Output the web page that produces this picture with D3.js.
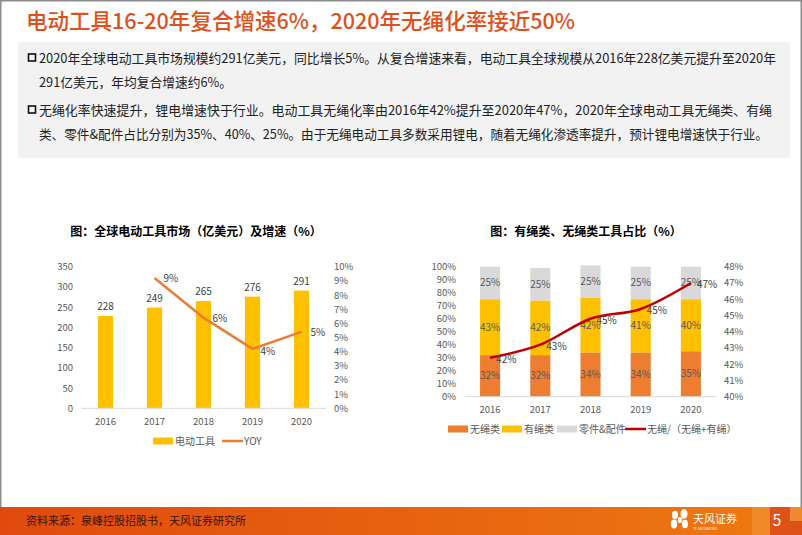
<!DOCTYPE html>
<html>
<head>
<meta charset="utf-8">
<script src="https://cdn.jsdelivr.net/npm/d3@7"></script>
<style>
  body { margin: 0; background: #fff; }
  svg { display: block; font-family: "Noto Sans CJK SC", "Noto Sans", sans-serif; }
  .tick-label { font-size: 9.5px; fill: #595959; }
  .data-label { font-size: 10px; fill: #404040; }
  .chart-title { font-size: 12px; font-weight: bold; fill: #000; }
  .legend { font-size: 10px; fill: #595959; }
  .body-text { font-size: 13px; fill: #222; }
</style>
</head>
<body>
<svg></svg>
<script>
// data
const years = ["2016", "2017", "2018", "2019", "2020"];
const marketSize = [228, 249, 265, 276, 291]; // 亿美元
const yoy = [null, 9.2, 6.4, 4.2, 5.4]; // %
const cordless = [32, 32, 34, 34, 35]; // %
const corded = [43, 42, 42, 41, 40];
const parts = [25, 25, 25, 25, 25];
const cordlessShare = [42.4, 43.2, 44.8, 45.4, 47.0]; // 无绳/(无绳+有绳)

const leftTicks = [0, 50, 100, 150, 200, 250, 300, 350];
const yoyTicks = [0, 1, 2, 3, 4, 5, 6, 7, 8, 9, 10];
const shareTicks = [0, 10, 20, 30, 40, 50, 60, 70, 80, 90, 100];
const ratioTicks = [40, 41, 42, 43, 44, 45, 46, 47, 48];

const bulletLines = [
  ["2020年全球电动工具市场规模约291亿美元，同比增长5%。从复合增速来看，电动工具全球规模从2016年228亿美元提升至2020年", "291亿美元，年均复合增速约6%。"],
  ["无绳化率快速提升，锂电增速快于行业。电动工具无绳化率由2016年42%提升至2020年47%，2020年全球电动工具无绳类、有绳", "类、零件&配件占比分别为35%、40%、25%。由于无绳电动工具多数采用锂电，随着无绳化渗透率提升，预计锂电增速快于行业。"]
];
// fitted widths of each text line (px)
const lineWidths = [[737, 193], [733, 729]];

const svg = d3.select("svg").attr("width", 802).attr("height", 535);

// page frame
svg.append("rect")
  .attr("x", 0.75).attr("y", 0.75).attr("width", 800.5).attr("height", 534)
  .style("fill", "#fff").style("stroke", "#8c8c8c").style("stroke-width", 1.5);

// title
svg.append("text")
  .attr("x", 26).attr("y", 29)
  .attr("textLength", 549).attr("lengthAdjust", "spacingAndGlyphs")
  .style("font-size", "22px").style("fill", "#E0501B").style("font-weight", 500)
  .text("电动工具16-20年复合增速6%，2020年无绳化率接近50%");

// text box
svg.append("rect")
  .attr("x", 18).attr("y", 42).attr("width", 772).attr("height", 116)
  .style("fill", "#F2F2F2");

const para = svg.selectAll("g.para")
  .data(bulletLines)
  .enter()
  .append("g")
  .attr("class", "para")
  .attr("transform", (d, i) => `translate(0, ${i * 52})`);

para.append("rect")
  .attr("x", 28.5).attr("y", 54).attr("width", 7).attr("height", 7)
  .style("fill", "none").style("stroke", "#111").style("stroke-width", 1.6);

para.each(function (d, p) {
  d3.select(this).selectAll("text")
    .data(d)
    .enter()
    .append("text")
    .attr("class", "body-text")
    .attr("x", 39)
    .attr("y", (t, i) => 62.5 + i * 24.5)
    .attr("textLength", (t, i) => lineWidths[p][i])
    .attr("lengthAdjust", "spacingAndGlyphs")
    .text(t => t);
});

// ---------- LEFT CHART ----------
svg.append("text").attr("class", "chart-title")
  .attr("x", 196).attr("y", 236).attr("text-anchor", "middle")
  .text("图：全球电动工具市场（亿美元）及增速（%）");

const x1 = d3.scaleBand().domain(years).range([81, 326]).paddingInner(0.69).paddingOuter(0.345);
const y1 = d3.scaleLinear().domain([0, 350]).range([408.3, 266.7]);
const y1r = d3.scaleLinear().domain([0, 10]).range([408.3, 266.7]);

const left = svg.append("g").attr("class", "left-chart");

left.selectAll("text.yl")
  .data(leftTicks).enter().append("text")
  .attr("class", "tick-label").attr("text-anchor", "end")
  .attr("x", 73).attr("y", d => y1(d) + 3.5)
  .text(d => d);

left.selectAll("text.yr")
  .data(yoyTicks).enter().append("text")
  .attr("class", "tick-label")
  .attr("x", 334).attr("y", d => y1r(d) + 3.5)
  .text(d => d + "%");

left.selectAll("rect.bar")
  .data(marketSize).enter().append("rect")
  .attr("x", (d, i) => x1(years[i]))
  .attr("y", d => y1(d))
  .attr("width", x1.bandwidth())
  .attr("height", d => y1(0) - y1(d))
  .style("fill", "#FFC000");

left.append("line")
  .attr("x1", 81).attr("x2", 326).attr("y1", y1(0)).attr("y2", y1(0))
  .style("stroke", "#D9D9D9").style("stroke-width", 1);

left.selectAll("text.xl")
  .data(years).enter().append("text")
  .attr("class", "tick-label").attr("text-anchor", "middle")
  .attr("x", d => x1(d) + x1.bandwidth() / 2).attr("y", 425)
  .text(d => d);

left.selectAll("text.bar-label")
  .data(marketSize).enter().append("text")
  .attr("class", "data-label").attr("text-anchor", "middle")
  .attr("x", (d, i) => x1(years[i]) + x1.bandwidth() / 2)
  .attr("y", d => y1(d) - 6)
  .text(d => d);

const yoyPoints = yoy.map((d, i) => ({ year: years[i], v: d })).filter(d => d.v !== null);

const yoyLine = d3.line()
  .x(d => x1(d.year) + x1.bandwidth() / 2)
  .y(d => y1r(d.v));

left.append("path")
  .datum(yoyPoints)
  .attr("d", yoyLine)
  .style("fill", "none").style("stroke", "#ED7D31").style("stroke-width", 2.5)
  .style("stroke-linejoin", "round");

left.selectAll("text.yoy-label")
  .data(yoyPoints).enter().append("text")
  .attr("class", "data-label")
  .attr("x", d => x1(d.year) + x1.bandwidth() / 2 + (d.v < 5 ? 8 : 9))
  .attr("y", d => y1r(d.v) + (d.v < 5 ? 6 : 4))
  .text(d => Math.round(d.v) + "%");

// legend
left.append("rect").attr("x", 153).attr("y", 437.5).attr("width", 20).attr("height", 7).style("fill", "#FFC000");
left.append("text").attr("class", "legend").attr("x", 175).attr("y", 444.5).text("电动工具");
left.append("line").attr("x1", 222).attr("x2", 243).attr("y1", 441).attr("y2", 441)
  .style("stroke", "#ED7D31").style("stroke-width", 2.5);
left.append("text").attr("class", "legend").attr("x", 244).attr("y", 444.5).text("YOY");

// ---------- RIGHT CHART ----------
svg.append("text").attr("class", "chart-title")
  .attr("x", 586).attr("y", 236).attr("text-anchor", "middle")
  .text("图：有绳类、无绳类工具占比（%）");

const x2 = d3.scaleBand().domain(years).range([465, 716]).paddingInner(0.6).paddingOuter(0.3);
const y2 = d3.scaleLinear().domain([0, 100]).range([396.7, 266.7]);
const y2r = d3.scaleLinear().domain([40, 48]).range([396.7, 266.7]);

const right = svg.append("g").attr("class", "right-chart");

right.selectAll("text.yl")
  .data(shareTicks).enter().append("text")
  .attr("class", "tick-label").attr("text-anchor", "end")
  .attr("x", 456).attr("y", d => y2(d) + 3.5)
  .text(d => d + "%");

right.selectAll("text.yr")
  .data(ratioTicks).enter().append("text")
  .attr("class", "tick-label")
  .attr("x", 724).attr("y", d => y2r(d) + 3.5)
  .text(d => d + "%");

const stackRows = years.map((y, i) => ({ year: y, cordless: cordless[i], corded: corded[i], parts: parts[i] }));
const keys = ["cordless", "corded", "parts"];
const stackColors = { cordless: "#ED7D31", corded: "#FFC000", parts: "#D9D9D9" };
const series = d3.stack().keys(keys)(stackRows);

const layers = right.selectAll("g.layer")
  .data(series).enter().append("g")
  .attr("class", "layer")
  .style("fill", d => stackColors[d.key]);

layers.selectAll("rect")
  .data(d => d).enter().append("rect")
  .attr("x", d => x2(d.data.year))
  .attr("y", d => y2(d[1]))
  .attr("width", x2.bandwidth())
  .attr("height", d => y2(d[0]) - y2(d[1]));

layers.selectAll("text")
  .data(d => d).enter().append("text")
  .attr("class", "data-label").attr("text-anchor", "middle")
  .style("fill", "#595959")
  .attr("x", d => x2(d.data.year) + x2.bandwidth() / 2)
  .attr("y", d => (y2(d[0]) + y2(d[1])) / 2 + 3.5)
  .text(d => (d[1] - d[0]) + "%");

right.append("line")
  .attr("x1", 465).attr("x2", 716).attr("y1", y2(0)).attr("y2", y2(0))
  .style("stroke", "#D9D9D9").style("stroke-width", 1);

right.selectAll("text.xl")
  .data(years).enter().append("text")
  .attr("class", "tick-label").attr("text-anchor", "middle")
  .attr("x", d => x2(d) + x2.bandwidth() / 2).attr("y", 413)
  .text(d => d);

const shareLine = d3.line()
  .curve(d3.curveMonotoneX)
  .x((d, i) => x2(years[i]) + x2.bandwidth() / 2)
  .y(d => y2r(d));

right.append("path")
  .datum(cordlessShare)
  .attr("d", shareLine)
  .style("fill", "none").style("stroke", "#C00000").style("stroke-width", 2.5);

right.selectAll("text.share-label")
  .data(cordlessShare).enter().append("text")
  .attr("class", "data-label")
  .attr("x", (d, i) => x2(years[i]) + x2.bandwidth() / 2 + 6)
  .attr("y", d => y2r(d) + 5)
  .text(d => Math.round(d) + "%");

// legend
const legendItems = [
  { label: "无绳类", color: "#ED7D31", x: 448, type: "rect" },
  { label: "有绳类", color: "#FFC000", x: 502, type: "rect" },
  { label: "零件&配件", color: "#D9D9D9", x: 557, type: "rect" },
  { label: "无绳/（无绳+有绳）", color: "#C00000", x: 625, type: "line" }
];
const lg = right.selectAll("g.legend-item")
  .data(legendItems).enter().append("g")
  .attr("class", "legend-item")
  .attr("transform", d => `translate(${d.x}, 429)`);
lg.filter(d => d.type === "rect").append("rect")
  .attr("x", 0).attr("y", -3.5).attr("width", 20).attr("height", 7)
  .style("fill", d => d.color);
lg.filter(d => d.type === "line").append("line")
  .attr("x1", 0).attr("x2", 21).attr("y1", 0).attr("y2", 0)
  .style("stroke", d => d.color).style("stroke-width", 2.5);
lg.append("text").attr("class", "legend")
  .attr("x", 22).attr("y", 3.5)
  .text(d => d.label);

// ---------- FOOTER ----------
const grad = svg.append("defs").append("linearGradient").attr("id", "footGrad");
grad.append("stop").attr("offset", "0%").attr("stop-color", "#E04A0E");
grad.append("stop").attr("offset", "100%").attr("stop-color", "#EE7A12");
svg.append("rect").attr("x", 0).attr("y", 507).attr("width", 802).attr("height", 28).style("fill", "url(#footGrad)");
svg.append("rect").attr("x", 752).attr("y", 507).attr("width", 18).attr("height", 28).style("fill", "#F29A3A").style("opacity", 0.55);
svg.append("rect").attr("x", 770).attr("y", 507).attr("width", 32).attr("height", 28).style("fill", "#D9481A").style("opacity", 0.8);
svg.append("rect").attr("x", 790).attr("y", 507).attr("width", 12).attr("height", 14).style("fill", "#F08A30");

svg.append("text")
  .attr("x", 26).attr("y", 525)
  .style("font-size", "11px").style("fill", "#3a1408")
  .text("资料来源：泉峰控股招股书，天风证券研究所");

// logo
const logo = svg.append("g").attr("transform", "translate(680, 521)");
[[-5, -6, 3], [4, -7, 3.5], [-6, 3, 3.2], [5, 3, 3], [0, -1, 2.2]].forEach(p => {
  logo.append("ellipse").attr("cx", p[0]).attr("cy", p[1]).attr("rx", p[2]).attr("ry", p[2] * 1.4)
    .style("fill", "#fff");
});
svg.append("text").attr("x", 693).attr("y", 523).style("font-size", "11px").style("fill", "#fff").text("天风证券");
svg.append("text").attr("x", 693).attr("y", 530).style("font-size", "3.5px").style("fill", "#fff").text("TF SECURITIES");

svg.append("text").attr("x", 777).attr("y", 526).attr("text-anchor", "middle")
  .style("font-size", "16px").style("fill", "#fff").text("5");
</script>
</body>
</html>
